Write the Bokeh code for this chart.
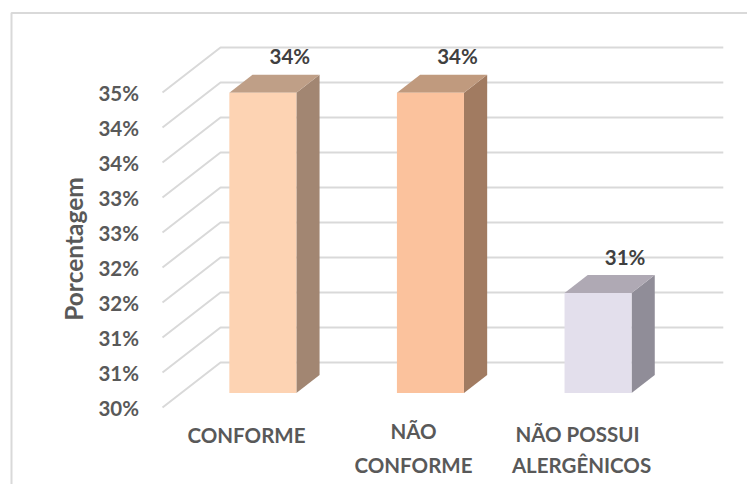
from math import pi
from bokeh.plotting import figure
from bokeh.models import FixedTicker
from bokeh.core.properties import value
from bokeh.embed import file_html
from bokeh.resources import INLINE

categories_line1 = ["CONFORME", "NÃO", "NÃO POSSUI"]
categories_line2 = ["CONFORME", "ALERGÊNICOS"]
values = [34.29, 34.29, 31.43]
data_labels = ["34%", "34%", "31%"]
tick_values = [30, 30.5, 31, 31.5, 32, 32.5, 33, 33.5, 34, 34.5]
tick_labels = ["30%", "31%", "31%", "32%", "32%", "33%", "33%", "34%", "34%", "35%"]
front_colors = ["#FDD3B3", "#FBC29D", "#E3DFEC"]
side_colors = ["#A28672", "#A17B61", "#908D98"]
top_colors = ["#BF9F87", "#C09A7E", "#AFA9B4"]

FONT = "Lato"
W, H = 747, 484
X0, UX = 162.0, 167.6   # px of the front-left corner, px per category
Y0, UY = 407.0, 70.0    # px of 30 %, px per percentage point
DU, DV = 58.0 / UX, 45.0 / UY  # wall depth in data units
BASE = 30.0


def px(page_x):
    return (page_x - X0) / UX


def py(page_y):
    return BASE + (Y0 - page_y) / UY


p = figure(width=W, height=H, output_backend="svg", toolbar_location=None,
           x_range=(px(0), px(W)), y_range=(py(H), py(0)),
           x_axis_location=None, min_border=0, background_fill_color="white",
           border_fill_color="white", outline_line_color=None)
p.xgrid.visible = False
p.ygrid.visible = False

# frame of the pasted picture
p.line([px(11), px(11), px(W)], [py(H), py(12.5), py(12.5)],
       line_color="#D9D9D9", line_width=2)

# back wall gridlines, with the floor-side slant
n_cat = len(values)
p.multi_line([[0, DU, n_cat + DU] for _ in tick_values],
             [[t, t + DV, t + DV] for t in tick_values],
             line_color="#D9D9D9", line_width=2)


def project(u, v, f):
    return u + f * DU, v + f * DV


BW, F0, F1 = 0.4, 0.32, 0.72
CENTER = 0.488
for i, val in enumerate(values):
    left = i + CENTER - BW / 2
    right = left + BW
    corners = lambda pts: list(zip(*[project(*c) for c in pts]))
    xs, ys = corners([(right, BASE, F0), (right, BASE, F1), (right, val, F1), (right, val, F0)])
    p.patch(list(xs), list(ys), fill_color=side_colors[i], line_color=None)
    xs, ys = corners([(left, val, F0), (left, val, F1), (right, val, F1), (right, val, F0)])
    p.patch(list(xs), list(ys), fill_color=top_colors[i], line_color=None)
    xs, ys = corners([(left, BASE, F0), (right, BASE, F0), (right, val, F0), (left, val, F0)])
    p.patch(list(xs), list(ys), fill_color=front_colors[i], line_color=None)

# data labels above each column
label_x = [i + CENTER + 27.0 / UX + project(0, 0, F0)[0] for i in range(n_cat)]
label_y = [v + project(0, 0, F0)[1] + 36.5 / UY for v in values]
p.text(label_x, label_y, text=data_labels, text_align="center", text_baseline="middle",
       text_font=value(FONT), text_font_style="bold", text_font_size="20.5px", text_color="#404040")

# category labels, two lines with the wide spacing of the original
p.text([px(246), px(413), px(577)], [py(434), py(430), py(433)], text=categories_line1,
       text_align="center", text_baseline="middle", text_font=value(FONT),
       text_font_style="bold", text_font_size="20.5px", text_color="#595959")
p.text([px(413), px(581)], [py(464)] * 2, text=categories_line2, text_align="center",
       text_baseline="middle", text_font=value(FONT), text_font_style="bold",
       text_font_size="20.5px", text_color="#595959")

# axis title
p.text([px(73)], [py(248.5)], text=["Porcentagem"], angle=pi / 2, text_align="center",
       text_baseline="alphabetic", text_font=value(FONT), text_font_style="bold",
       text_font_size="24.5px", text_color="#595959")

ax = p.yaxis[0]
ax.fixed_location = px(150.5)
ax.ticker = FixedTicker(ticks=tick_values)
ax.major_label_overrides = {t: l for t, l in zip(tick_values, tick_labels)}
ax.axis_line_color = None
ax.major_tick_line_color = None
ax.minor_tick_line_color = None
ax.major_label_standoff = 6
ax.major_label_text_font = FONT
ax.major_label_text_font_style = "bold"
ax.major_label_text_font_size = "20.5px"
ax.major_label_text_color = "#595959"

open("out.html", "w").write(file_html(p, INLINE))
